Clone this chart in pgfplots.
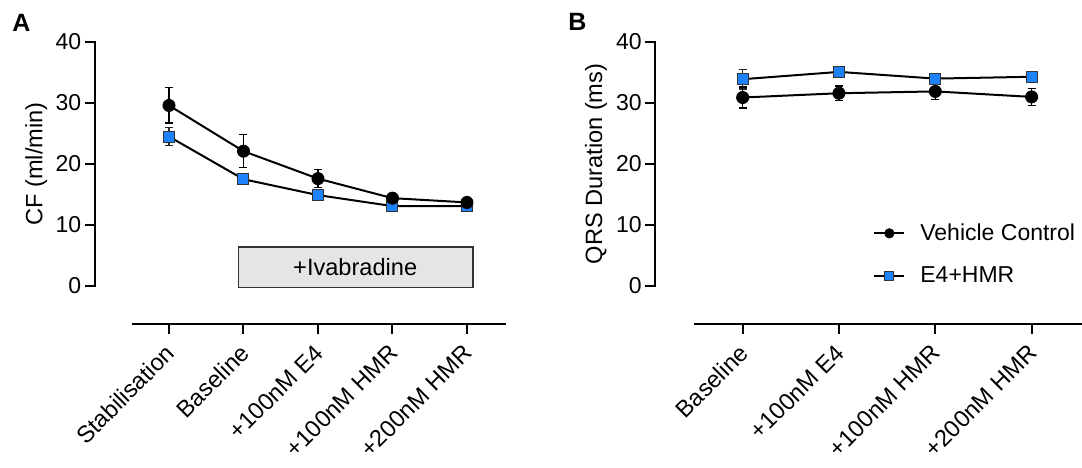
\documentclass[border=0pt]{standalone}
\usepackage{fontspec}
\setmainfont{Liberation Sans}
\usepackage{pgfplots}
\pgfplotsset{compat=1.18}
\definecolor{qblue}{RGB}{30,130,250}
\definecolor{boxgray}{RGB}{229,229,229}

\pgfplotstableread{
x y e
0 29.6 2.9
1 22.1 2.7
2 17.6 1.5
3 14.4 0.5
4 13.7 0.4
}\AVehicle
\pgfplotstableread{
x y e
0 24.5 1.45
1 17.5 0.6
2 14.9 0.6
3 13.1 0.5
4 13.1 0.5
}\AEfour
\pgfplotstableread{
x y e
0 30.9 1.7
1 31.6 1.2
2 31.9 1.3
3 31.0 1.4
}\BVehicle
\pgfplotstableread{
x y e
0 33.9 1.6
1 35.1 0.5
2 34.0 0.5
3 34.3 0.5
}\BEfour

\begin{document}
\begin{tikzpicture}
\path[use as bounding box] (0,0) rectangle (541pt,233.5pt);
\pgfplotsset{
  prism/.style={
    scale only axis, clip=false,
    axis x line*=bottom, axis y line*=left,
    axis line style={draw=none},
    tick align=outside, major tick length=5pt,
    every tick/.style={black,line width=1pt},
    ymin=-6.23, ymax=40, ytick={0,10,20,30,40},
    height=141pt,
    /pgf/number format/assume math mode=true,
    yticklabel style={font=\fontsize{11.5}{13}\selectfont, inner sep=1.5pt},
    xticklabel style={xshift=-2.5pt, yshift=-1.5pt, rotate=45, anchor=north east, font=\fontsize{11.8}{13}\selectfont, inner sep=2pt},
  },
  vc/.style={black, line width=1pt, mark=*, mark size=3pt,
    mark options={solid, fill=black, line width=0.5pt},
    error bars/.cd, y dir=both, y explicit,
    error bar style={line width=0.7pt, black},
    error mark options={rotate=90, mark size=2pt, line width=0.7pt, black}},
  e4/.style={black, line width=1pt, mark=square*, mark size=2.75pt,
    mark options={solid, fill=qblue, draw=black!80, line width=0.5pt},
    error bars/.cd, y dir=both, y explicit,
    error bar style={line width=0.7pt, black!85},
    error mark options={rotate=90, mark size=2pt, line width=0.7pt, black!85}},
}

% Panel A
\begin{axis}[prism,
  at={(47.25pt,71.5pt)}, anchor=south west,
  width=205.6pt, xmin=-1, xmax=4.52,
  xtick={0,1,2,3,4},
  xticklabels={Stabilisation, Baseline, +100nM E4, +100nM HMR, +200nM HMR},
  ylabel={CF (ml/min)},
  every axis y label/.style={at={([xshift=-26pt]axis cs:-1,20)}, rotate=90, anchor=base, font=\fontsize{11.8}{13}\selectfont},
]
\draw[draw=black!80, line width=0.6pt, fill=boxgray] (axis cs:0.93,-0.3) rectangle (axis cs:4.08,6.4);
\node[font=\fontsize{11.8}{13}\selectfont] at (axis cs:2.5,3.05) {+Ivabradine};
\draw[line width=1pt, line cap=rect] (axis cs:-1,0) -- (axis cs:-1,40);
\draw[line width=1pt] (axis cs:-0.5,-6.23) -- (axis cs:4.52,-6.23);
\addplot[e4] table[x=x, y=y, y error=e] {\AEfour};
\addplot[vc] table[x=x, y=y, y error=e] {\AVehicle};
\end{axis}

% Panel B
\begin{axis}[prism,
  at={(327.5pt,71.5pt)}, anchor=south west,
  width=213.35pt, xmin=-0.91, xmax=3.52,
  xtick={0,1,2,3},
  xticklabels={Baseline, +100nM E4, +100nM HMR, +200nM HMR},
  ylabel={QRS Duration (ms)},
  every axis y label/.style={at={([xshift=-26.5pt]axis cs:-0.91,20)}, rotate=90, anchor=base, font=\fontsize{11.8}{13}\selectfont},
  reverse legend,
  legend style={at={(axis cs:1.353,10.8)}, anchor=north west, draw=none, fill=none,
    font=\fontsize{11.5}{13}\selectfont, inner sep=0pt, row sep=8.5pt,
    nodes={inner sep=1.5pt}, column sep=0pt},
  legend cell align=left,
  legend image code/.code={\draw[mark repeat=2, mark phase=2, #1, mark size=2.3pt] plot coordinates {(0pt,0pt) (7.5pt,0pt) (15pt,0pt)};},
  /tikz/every odd column/.append style={column sep=6pt},
]
\draw[line width=1pt, line cap=rect] (axis cs:-0.91,0) -- (axis cs:-0.91,40);
\draw[line width=1pt] (axis cs:-0.5,-6.23) -- (axis cs:3.52,-6.23);
\addplot[e4] table[x=x, y=y, y error=e] {\BEfour};
\addlegendentry{E4+HMR}
\addplot[vc] table[x=x, y=y, y error=e] {\BVehicle};
\addlegendentry{Vehicle Control}
\end{axis}

\node[anchor=base west, inner sep=0pt, font=\fontsize{12.5}{14}\selectfont\bfseries] at (6pt,217.5pt) {A};
\node[anchor=base west, inner sep=0pt, font=\fontsize{12.5}{14}\selectfont\bfseries] at (284pt,218pt) {B};
\end{tikzpicture}
\end{document}
